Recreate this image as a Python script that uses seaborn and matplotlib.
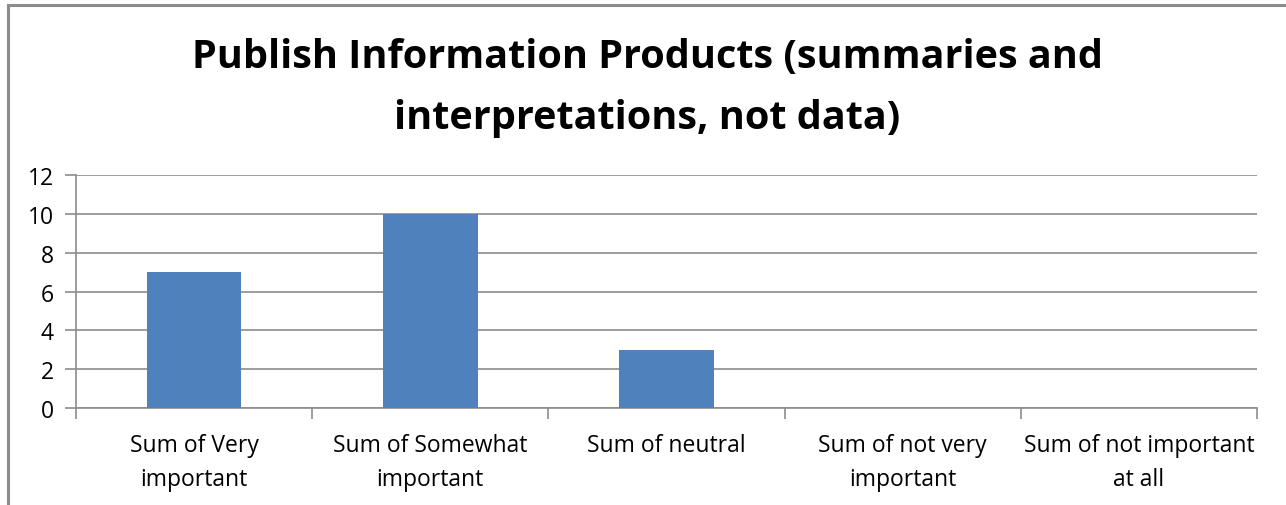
import matplotlib
matplotlib.use("Agg")
import matplotlib.pyplot as plt
import seaborn as sns
import pandas as pd
from matplotlib.patches import Rectangle

categories = ["Sum of Very\nimportant", "Sum of Somewhat\nimportant", "Sum of neutral",
              "Sum of not very\nimportant", "Sum of not important\nat all"]
values = [7, 10, 3, 0, 0]
yticks = [0, 2, 4, 6, 8, 10, 12]
title = "Publish Information Products (summaries and\ninterpretations, not data)"

sns.set_theme(style="white")
plt.rcParams['font.family'] = ['Open Sans', 'DejaVu Sans']

W, H = 1286, 506
fig = plt.figure(figsize=(W / 100, H / 100), dpi=100)
ax = fig.add_axes([76 / W, 1 - 409 / H, (1257 - 76) / W, (409 - 176) / H])

df = pd.DataFrame({"cat": categories, "val": values})
sns.barplot(data=df, x="cat", y="val", ax=ax, color="#4f81bd", width=0.4,
            saturation=1, edgecolor="none", zorder=3)

ax.set_ylim(0, 12)
ax.set_xlim(-0.5, len(categories) - 0.5)
ax.set_yticks(yticks)
ax.set_yticklabels([str(t) for t in yticks], fontsize=16.5, color="black")
ax.yaxis.grid(True, color="#8c8c8c", linewidth=1.2, zorder=0)
ax.set_axisbelow(True)
ax.set_xlabel("")
ax.set_ylabel("")

for s in ["top", "right"]:
    ax.spines[s].set_visible(False)
for s in ["left", "bottom"]:
    ax.spines[s].set_color("#8c8c8c")
    ax.spines[s].set_linewidth(1.2)

ax.set_xticks([i - 0.5 for i in range(len(categories) + 1)], minor=True)
ax.set_xticks(range(len(categories)))
ax.set_xticklabels(categories, fontsize=16.5, color="black", linespacing=1.55)
ax.tick_params(axis="x", which="major", length=0, pad=18)
ax.tick_params(axis="x", which="minor", length=8, color="#8c8c8c", width=1.2, bottom=True)
ax.tick_params(axis="y", length=8, color="#8c8c8c", width=1.2, left=True, pad=8)

fig.text(0.5 + 4 / W, 1 - 88 / H, title, ha="center", va="center", color="black",
         fontsize=28.5, fontweight="bold", linespacing=1.7)

fig.patches.append(Rectangle((7.5 / W, -0.1), 1.2, 1 - 5.5 / H + 0.1,
                             transform=fig.transFigure, fill=False,
                             edgecolor="#8c8c8c", linewidth=2.2))

fig.savefig("out.png", dpi=100)
